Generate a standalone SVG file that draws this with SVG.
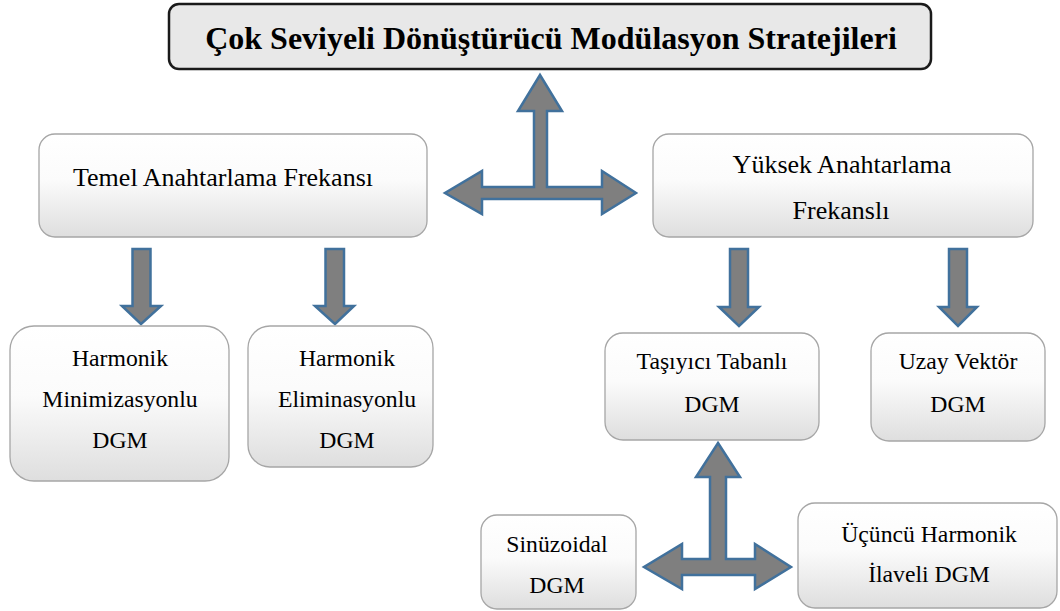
<svg xmlns="http://www.w3.org/2000/svg" width="1060" height="611" viewBox="0 0 1060 611">
  <defs>
    <linearGradient id="boxFill" x1="0" y1="0" x2="0" y2="1">
      <stop offset="0" stop-color="#ffffff"/>
      <stop offset="0.45" stop-color="#fbfbfb"/>
      <stop offset="1" stop-color="#dedede"/>
    </linearGradient>
    <style>
      .box { fill: url(#boxFill); stroke: #a6a6a6; stroke-width: 1.3; }
      .title-box { fill: #e8e8e8; stroke: #1a1a1a; stroke-width: 2.5; }
      .arrow { fill: #7f7f7f; stroke: #41719c; stroke-width: 2.5; stroke-linejoin: miter; }
      .lbl { fill: #000; text-anchor: middle; }
      .title { font-size: 32px; font-weight: bold; }
      .big { font-size: 26px; }
      .small { font-size: 23.7px; }
    </style>
  </defs>

  <!-- connectors -->
  <g id="connectors">
    <!-- top T: title / temel / yuksek -->
    <path class="arrow" d="M540,75 L562,111 L547,111 L547,187 L602,187 L602,171 L636,193 L602,214 L602,199 L482,199 L482,214 L445,193 L482,171 L482,187 L534,187 L534,111 L518,111 Z"/>
    <!-- down arrows -->
    <path class="arrow" d="M132.5,249 L150.5,249 L150.5,306 L161,306 L141,324 L122,306 L132.5,306 Z"/>
    <path class="arrow" d="M325.5,249 L344,249 L344,306 L354,306 L335,324 L315,306 L325.5,306 Z"/>
    <path class="arrow" d="M730,249 L748,249 L748,307 L759,307 L739,326 L719,307 L730,307 Z"/>
    <path class="arrow" d="M949,249 L967,249 L967,307 L977,307 L958,326 L939,307 L949,307 Z"/>
    <!-- bottom T: tasiyici / sinuzoidal / ucuncu -->
    <path class="arrow" d="M718,443 L740,477 L726,477 L726,559 L755,559 L755,544 L791,567 L755,589 L755,575 L682,575 L682,589 L644,567 L682,544 L682,559 L710,559 L710,477 L696,477 Z"/>
  </g>

  <g font-family="'Liberation Serif', Tinos, 'DejaVu Serif', serif">
  <g id="title">
    <rect class="title-box" x="169" y="4" width="762" height="65" rx="10"/>
    <text class="lbl title" x="551" y="49">Çok Seviyeli Dönüştürücü Modülasyon Stratejileri</text>
  </g>

  <g id="temel">
    <rect class="box" x="39" y="134" width="388" height="103" rx="16"/>
    <text class="lbl big" x="223" y="186">Temel Anahtarlama Frekansı</text>
  </g>

  <g id="yuksek">
    <rect class="box" x="653" y="134" width="380" height="103" rx="16"/>
    <text class="lbl big" x="842" y="173">Yüksek Anahtarlama</text>
    <text class="lbl big" x="841" y="219">Frekanslı</text>
  </g>

  <g id="minimizasyon">
    <rect class="box" x="10" y="326" width="219" height="155" rx="24"/>
    <text class="lbl small" x="120" y="366">Harmonik</text>
    <text class="lbl small" x="120" y="407">Minimizasyonlu</text>
    <text class="lbl small" x="120" y="448">DGM</text>
  </g>

  <g id="eliminasyon">
    <rect class="box" x="248" y="326" width="185" height="141" rx="22"/>
    <text class="lbl small" x="347" y="366">Harmonik</text>
    <text class="lbl small" x="347" y="407">Eliminasyonlu</text>
    <text class="lbl small" x="347" y="448">DGM</text>
  </g>

  <g id="tasiyici">
    <rect class="box" x="605" y="333" width="214" height="107" rx="18"/>
    <text class="lbl small" x="712" y="369">Taşıyıcı Tabanlı</text>
    <text class="lbl small" x="712" y="412">DGM</text>
  </g>

  <g id="uzay">
    <rect class="box" x="871" y="333" width="174" height="108" rx="18"/>
    <text class="lbl small" x="958" y="369">Uzay Vektör</text>
    <text class="lbl small" x="958" y="412">DGM</text>
  </g>

  <g id="sinuzoidal">
    <rect class="box" x="481" y="515" width="155" height="94" rx="16"/>
    <text class="lbl small" x="557" y="552">Sinüzoidal</text>
    <text class="lbl small" x="557" y="593">DGM</text>
  </g>

  <g id="ucuncu">
    <rect class="box" x="798" y="503" width="259" height="105" rx="17"/>
    <text class="lbl small" x="929" y="542">Üçüncü Harmonik</text>
    <text class="lbl small" x="929" y="582">İlaveli DGM</text>
  </g>
  </g>
</svg>
